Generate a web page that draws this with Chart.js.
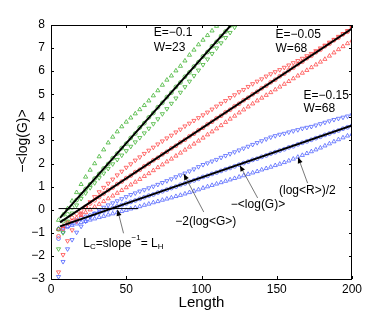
<!DOCTYPE html>
<html>
<head>
<meta charset="utf-8">
<script src="https://cdn.jsdelivr.net/npm/chart.js@4"></script>
<style>
  html, body { margin: 0; padding: 0; background: #fff; }
  #wrap { width: 388px; height: 313px; }
</style>
</head>
<body>
<div id="wrap"><canvas id="chart" width="388" height="313"></canvas></div>
<script>
// ===== Data =====
const lengths = [5, 8, 11, 14, 17, 20, 23, 26, 29, 32, 35, 38, 41, 44, 47, 50, 53, 56, 59, 62,
    65, 68, 71, 74, 77, 80, 83, 86, 89, 92, 95, 98, 101, 104, 107, 110, 113, 116, 119, 122,
    125, 128, 131, 134, 137, 140, 143, 146, 149, 152, 155, 158, 161, 164, 167, 170, 173, 176, 179, 182,
    185, 188, 191, 194, 197, 200];

// E=-0.1, W=23 (green)
const greenUp = [-0.45, -0.22, 0.05, 0.38, 0.75, 1.1, 1.42, 1.72, 2.0, 2.3, 2.6, 2.9, 3.15, 3.38, 3.6, 3.8, 3.98, 4.16, 4.34, 4.52,
    4.72, 4.94, 5.16, 5.4, 5.62, 5.8, 6.02, 6.22, 6.45, 6.7, 6.92, 7.15, 7.35, 7.55, 7.75, 7.95, 8.12];
const greenCirc = [-0.85, -0.5, -0.2, 0.1, 0.42, 0.66, 0.9, 1.1, 1.35, 1.55, 1.79, 1.98, 2.23, 2.43, 2.67, 2.86, 3.11, 3.3, 3.56, 3.75,
    4.0, 4.19, 4.44, 4.63, 4.88, 5.07, 5.32, 5.51, 5.76, 5.95, 6.2, 6.39, 6.64, 6.83, 7.08, 7.27, 7.52, 7.72, 7.97, 8.16];
const greenDown = [-1.7, -1.0, -0.5, -0.15, 0.2, 0.48, 0.72, 0.95, 1.16, 1.38, 1.58, 1.78, 1.98, 2.17, 2.36, 2.55, 2.74, 2.93, 3.12, 3.32,
    3.52, 3.72, 3.93, 4.15, 4.37, 4.6, 4.83, 5.08, 5.32, 5.56, 5.8, 6.04, 6.28, 6.52, 6.76, 7.0, 7.22, 7.45, 7.67, 7.9, 8.1];

// E=-0.05, W=68 (red)
const redUp = [-0.85, -0.72, -0.6, -0.48, -0.36, -0.24, -0.12, 0.0, 0.12, 0.24, 0.36, 0.48, 0.6, 0.72, 0.84, 0.96, 1.08, 1.2, 1.32, 1.45,
    1.57, 1.7, 1.83, 1.95, 2.08, 2.2, 2.33, 2.46, 2.59, 2.72, 2.85, 2.98, 3.11, 3.25, 3.38, 3.51, 3.65, 3.79, 3.93, 4.06,
    4.2, 4.33, 4.46, 4.59, 4.72, 4.84, 4.96, 5.08, 5.2, 5.32, 5.44, 5.56, 5.68, 5.8, 5.92, 6.04, 6.16, 6.28, 6.4, 6.52,
    6.66, 6.8, 6.94, 7.07, 7.2, 7.32];
const redCirc = [-1.15, -0.82, -0.55, -0.35, -0.17, -0.02, 0.13, 0.27, 0.41, 0.55, 0.7, 0.85, 0.96, 1.11, 1.22, 1.37, 1.48, 1.63, 1.73, 1.88,
    1.99, 2.14, 2.25, 2.4, 2.51, 2.66, 2.77, 2.92, 3.03, 3.18, 3.29, 3.44, 3.55, 3.7, 3.81, 3.96, 4.07, 4.22, 4.33, 4.48,
    4.59, 4.74, 4.85, 5.0, 5.11, 5.26, 5.37, 5.52, 5.63, 5.78, 5.89, 6.04, 6.15, 6.3, 6.41, 6.56, 6.67, 6.82, 6.93, 7.08,
    7.19, 7.34, 7.45, 7.6, 7.71, 7.86];
const redDown = [-2.7, -1.95, -1.35, -0.88, -0.5, -0.18, 0.1, 0.34, 0.56, 0.77, 0.96, 1.14, 1.32, 1.5, 1.66, 1.83, 1.98, 2.14, 2.28, 2.43,
    2.57, 2.7, 2.84, 2.97, 3.1, 3.22, 3.36, 3.48, 3.62, 3.74, 3.86, 3.98, 4.1, 4.22, 4.35, 4.48, 4.6, 4.72, 4.85, 4.97,
    5.1, 5.2, 5.33, 5.45, 5.56, 5.66, 5.78, 5.88, 5.97, 6.06, 6.16, 6.26, 6.36, 6.45, 6.55, 6.66, 6.76, 6.88, 7.0, 7.12,
    7.25, 7.37, 7.5, 7.62, 7.75, 7.88];

// E=-0.15, W=68 (blue)
const blueUp = [-0.82, -0.78, -0.72, -0.67, -0.61, -0.55, -0.5, -0.44, -0.39, -0.33, -0.28, -0.22, -0.17, -0.12, -0.07, -0.02, 0.04, 0.09, 0.14, 0.2,
    0.25, 0.31, 0.36, 0.42, 0.47, 0.52, 0.58, 0.63, 0.69, 0.75, 0.81, 0.87, 0.94, 1.0, 1.06, 1.12, 1.18, 1.24, 1.3, 1.36,
    1.42, 1.48, 1.54, 1.6, 1.66, 1.73, 1.79, 1.85, 1.92, 1.98, 2.05, 2.12, 2.2, 2.28, 2.36, 2.44, 2.52, 2.6, 2.68, 2.77,
    2.86, 2.95, 3.04, 3.12, 3.2, 3.27];
const blueCirc = [-1.25, -0.95, -0.74, -0.58, -0.47, -0.38, -0.31, -0.25, -0.18, -0.12, -0.06, 0.01, 0.07, 0.14, 0.2, 0.27, 0.34, 0.4, 0.47, 0.54,
    0.61, 0.66, 0.74, 0.8, 0.87, 0.94, 1.0, 1.08, 1.14, 1.21, 1.27, 1.34, 1.42, 1.47, 1.55, 1.61, 1.68, 1.75, 1.81, 1.88,
    1.95, 2.02, 2.08, 2.16, 2.21, 2.29, 2.35, 2.43, 2.49, 2.56, 2.62, 2.7, 2.75, 2.83, 2.9, 2.96, 3.03, 3.1, 3.16, 3.24,
    3.3, 3.37, 3.43, 3.51, 3.57, 3.64];
const blueDown = [-2.9, -2.25, -1.7, -1.3, -0.98, -0.72, -0.5, -0.32, -0.16, -0.02, 0.1, 0.2, 0.29, 0.38, 0.47, 0.56, 0.65, 0.72, 0.8, 0.86,
    0.94, 1.01, 1.09, 1.17, 1.25, 1.33, 1.42, 1.5, 1.58, 1.67, 1.76, 1.86, 1.95, 2.02, 2.1, 2.17, 2.26, 2.34, 2.42, 2.5,
    2.58, 2.66, 2.74, 2.82, 2.9, 2.98, 3.06, 3.14, 3.2, 3.26, 3.3, 3.36, 3.41, 3.46, 3.52, 3.56, 3.6, 3.66, 3.72, 3.78,
    3.84, 3.9, 3.95, 4.0, 4.05, 4.1];

// fitted lines: [x0, x1] and [y0, y1]
const fitX = [6, 200];
const greenFitY = [-0.35, 13.9];
const redFitY = [-0.55, 7.85];
const blueFitY = [-0.72, 3.65];

// short horizontal line at zero
const zeroLineX = [5, 58];
const zeroLineY = [0.05, 0.05];

const xTicks = [0, 50, 100, 150, 200];
const yTicks = [-3, -2, -1, 0, 1, 2, 3, 4, 5, 6, 7, 8];

const GREEN = "rgb(55,175,40)";
const RED = "rgb(255,60,60)";
const BLUE = "rgb(70,90,255)";

function pts(xv, yv) {
    return yv.map((y, i) => ({ x: xv[i], y: y }));
}

function markers(values, color, style, rot) {
    return {
        data: pts(lengths, values),
        showLine: false,
        pointStyle: style,
        rotation: rot,
        pointRadius: style === "circle" ? 1.9 : 2.4,
        pointBorderWidth: 0.75,
        pointBorderColor: color,
        pointBackgroundColor: "rgba(0,0,0,0)",
        order: 2
    };
}

function fit(xv, yv, w) {
    return {
        data: pts(xv, yv),
        showLine: true,
        borderColor: "#000",
        borderWidth: w,
        pointRadius: 0,
        order: 0
    };
}

// ===== Annotations (drawn on top) =====
const FONT = "Liberation Sans, Arial, Helvetica, sans-serif";

function arrow(ctx, x0, y0, x1, y1) {
    ctx.save();
    ctx.strokeStyle = "#555";
    ctx.lineWidth = 0.8;
    ctx.beginPath();
    ctx.moveTo(x0, y0);
    ctx.lineTo(x1, y1);
    ctx.stroke();
    const a = Math.atan2(y1 - y0, x1 - x0);
    const len = 6, half = 2.5;
    ctx.fillStyle = "#000";
    ctx.beginPath();
    ctx.moveTo(x1, y1);
    ctx.lineTo(x1 - len * Math.cos(a) + half * Math.sin(a), y1 - len * Math.sin(a) - half * Math.cos(a));
    ctx.lineTo(x1 - len * Math.cos(a) - half * Math.sin(a), y1 - len * Math.sin(a) + half * Math.cos(a));
    ctx.closePath();
    ctx.fill();
    ctx.restore();
}

// draw pieces [text, offsetY, size]
function rich(ctx, x, y, parts) {
    let cx = x;
    parts.forEach(p => {
        ctx.font = p[2] + "px " + FONT;
        ctx.fillText(p[0], cx, y + p[1]);
        cx += ctx.measureText(p[0]).width;
    });
}

const annotate = {
    id: "annotate",
    afterDatasetsDraw(chart) {
        const ctx = chart.ctx;
        const xs = chart.scales.x, ys = chart.scales.y;
        const a = chart.chartArea;
        const X = v => xs.getPixelForValue(v);
        const Y = v => ys.getPixelForValue(v);

        ctx.save();
        // box
        ctx.strokeStyle = "#000";
        ctx.lineWidth = 1;
        ctx.strokeRect(a.left + 0.5, a.top + 0.5, a.right - a.left - 1, a.bottom - a.top);
        // inward ticks
        ctx.beginPath();
        xTicks.forEach(t => {
            const px = Math.round(X(t)) + 0.5;
            ctx.moveTo(px, a.bottom); ctx.lineTo(px, a.bottom - 3);
            ctx.moveTo(px, a.top); ctx.lineTo(px, a.top + 3);
        });
        yTicks.forEach(t => {
            const py = Math.round(Y(t)) + 0.5;
            ctx.moveTo(a.left, py); ctx.lineTo(a.left + 3, py);
            ctx.moveTo(a.right, py); ctx.lineTo(a.right - 3, py);
        });
        ctx.stroke();

        ctx.fillStyle = "#000";
        ctx.textBaseline = "middle";
        ctx.textAlign = "left";
        ctx.font = "12px " + FONT;
        ctx.fillText("E=\u22120.1", X(68.2), Y(7.66));
        ctx.fillText("W=23", X(68.2), Y(7.02));
        ctx.fillText("E=\u22120.05", X(149.2), Y(7.6));
        ctx.fillText("W=68", X(149.2), Y(6.98));
        ctx.fillText("E=\u22120.15", X(167.8), Y(4.95));
        ctx.fillText("W=68", X(167.8), Y(4.38));

        ctx.fillText("\u22122(log<G>)", X(82.6), Y(-0.53));
        ctx.fillText("\u2212<log(G)>", X(119.5), Y(0.21));
        ctx.fillText("(log<R>)/2", X(151.5), Y(0.81));

        rich(ctx, X(21.5), Y(-1.45), [
            ["L", 0, 12], ["C", 4, 8], ["=slope", 0, 12], ["\u22121", -5, 8],
            ["= L", 0, 12], ["H", 4, 8]
        ]);

        arrow(ctx, X(48.2), Y(-1.02), X(44.2), Y(0.0));
        arrow(ctx, X(101.5), Y(-0.1), X(88.2), Y(1.55));
        arrow(ctx, X(137.3), Y(0.51), X(125.5), Y(1.92));
        arrow(ctx, X(170.5), Y(1.15), X(164.2), Y(2.27));

        // axis titles
        ctx.textAlign = "center";
        ctx.font = "15px " + FONT;
        ctx.fillText("Length", (a.left + a.right) / 2, 303);
        ctx.translate(23, 141);
        ctx.rotate(-Math.PI / 2);
        ctx.font = "14px " + FONT;
        ctx.fillText("\u2212<log(G)>", 0, 0);
        ctx.restore();
    }
};

new Chart(document.getElementById("chart"), {
    type: "scatter",
    data: {
        datasets: [
            fit(fitX, greenFitY, 2),
            fit(fitX, redFitY, 2),
            fit(fitX, blueFitY, 2),
            fit(zeroLineX, zeroLineY, 1),
            markers(greenUp, GREEN, "triangle", 0),
            markers(greenCirc, GREEN, "circle", 0),
            markers(greenDown, GREEN, "triangle", 180),
            markers(redUp, RED, "triangle", 0),
            markers(redCirc, RED, "circle", 0),
            markers(redDown, RED, "triangle", 180),
            markers(blueUp, BLUE, "triangle", 0),
            markers(blueCirc, BLUE, "circle", 0),
            markers(blueDown, BLUE, "triangle", 180)
        ]
    },
    options: {
        responsive: false,
        animation: false,
        events: [],
        layout: { padding: { left: 0, right: 36, top: 25, bottom: 0 } },
        plugins: { legend: { display: false }, tooltip: { enabled: false } },
        scales: {
            x: {
                type: "linear",
                min: 0, max: 200,
                afterFit: s => { s.height = 34; },
                afterBuildTicks: s => { s.ticks = xTicks.map(v => ({ value: v })); },
                grid: { display: false, drawTicks: false },
                border: { display: false },
                ticks: {
                    padding: 3, maxRotation: 0, autoSkip: false,
                    color: "#000", font: { family: FONT, size: 12 }
                }
            },
            y: {
                type: "linear",
                min: -3, max: 8,
                afterFit: s => { s.width = 51; },
                afterBuildTicks: s => { s.ticks = yTicks.map(v => ({ value: v })); },
                grid: { display: false, drawTicks: false },
                border: { display: false },
                ticks: {
                    padding: 6, autoSkip: false,
                    color: "#000", font: { family: FONT, size: 12 },
                    callback: v => v < 0 ? "\u2212" + Math.abs(v) : String(v)
                }
            }
        }
    },
    plugins: [annotate]
});
</script>
</body>
</html>
